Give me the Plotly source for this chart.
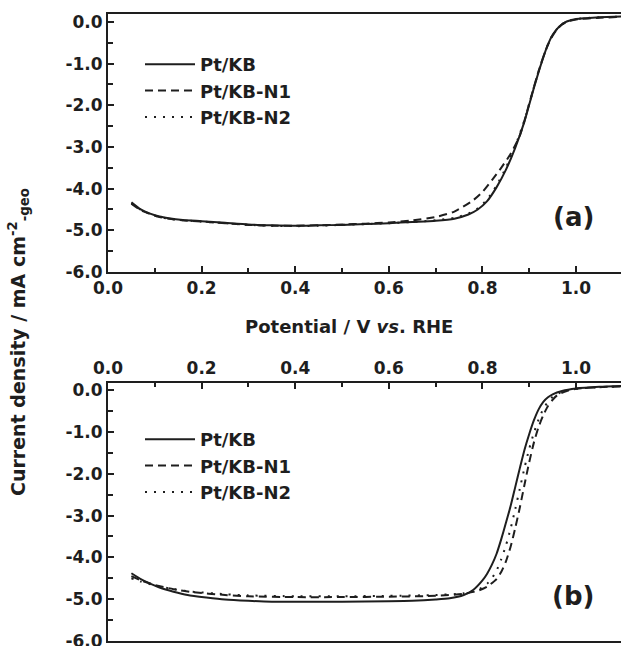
import plotly.graph_objects as go

# ---------------- data ----------------
names = ["Pt/KB", "Pt/KB-N1", "Pt/KB-N2"]

# panel (a)
a_kb_x = [0.05, 0.07, 0.09, 0.11, 0.13, 0.16, 0.20, 0.25, 0.30, 0.35, 0.40, 0.45, 0.50, 0.55, 0.60,
          0.65, 0.70, 0.74, 0.77, 0.79, 0.81, 0.83, 0.85, 0.87, 0.89, 0.90, 0.91, 0.92, 0.93, 0.94,
          0.95, 0.96, 0.97, 0.98, 1.00, 1.02, 1.05, 1.10]
a_kb_y = [-4.33, -4.50, -4.60, -4.67, -4.71, -4.75, -4.78, -4.82, -4.86, -4.88, -4.89, -4.88, -4.87, -4.85, -4.83,
          -4.80, -4.77, -4.72, -4.62, -4.50, -4.30, -3.97, -3.55, -3.02, -2.38, -1.98, -1.58, -1.20, -0.85, -0.54,
          -0.31, -0.16, -0.06, 0.01, 0.07, 0.09, 0.11, 0.13]

a_n1_x = [0.05, 0.07, 0.09, 0.11, 0.13, 0.16, 0.20, 0.25, 0.30, 0.35, 0.40, 0.45, 0.50, 0.55, 0.60,
          0.65, 0.70, 0.74, 0.78, 0.80, 0.82, 0.84, 0.86, 0.88, 0.89, 0.90, 0.91, 0.92, 0.93, 0.94,
          0.95, 0.96, 0.97, 0.98, 1.00, 1.05, 1.10]
a_n1_y = [-4.36, -4.52, -4.61, -4.68, -4.72, -4.76, -4.79, -4.83, -4.87, -4.89, -4.89, -4.88, -4.86, -4.84, -4.81,
          -4.76, -4.68, -4.55, -4.28, -4.08, -3.80, -3.50, -3.17, -2.72, -2.36, -1.96, -1.56, -1.18, -0.84, -0.55,
          -0.33, -0.17, -0.06, 0.00, 0.06, 0.10, 0.12]

a_n2_x = [0.05, 0.07, 0.09, 0.11, 0.13, 0.16, 0.20, 0.25, 0.30, 0.35, 0.40, 0.45, 0.50, 0.55, 0.60,
          0.65, 0.70, 0.74, 0.77, 0.79, 0.81, 0.83, 0.85, 0.87, 0.89, 0.90, 0.91, 0.92, 0.93, 0.94,
          0.95, 0.96, 0.97, 0.98, 1.00, 1.02, 1.05, 1.10]
a_n2_y = [-4.35, -4.51, -4.61, -4.68, -4.72, -4.76, -4.79, -4.83, -4.87, -4.89, -4.90, -4.89, -4.87, -4.85, -4.83,
          -4.80, -4.76, -4.70, -4.60, -4.47, -4.26, -3.93, -3.50, -2.98, -2.35, -1.96, -1.56, -1.19, -0.84, -0.54,
          -0.31, -0.16, -0.06, 0.01, 0.07, 0.09, 0.11, 0.13]

# panel (b)
b_kb_x = [0.05, 0.07, 0.09, 0.11, 0.14, 0.17, 0.21, 0.25, 0.30, 0.35, 0.40, 0.50, 0.60, 0.65, 0.70,
          0.73, 0.76, 0.78, 0.80, 0.81, 0.82, 0.83, 0.84, 0.85, 0.86, 0.87, 0.88, 0.89, 0.90, 0.91,
          0.92, 0.93, 0.94, 0.95, 0.97, 1.00, 1.05, 1.10]
b_kb_y = [-4.38, -4.52, -4.63, -4.72, -4.82, -4.90, -4.96, -5.01, -5.04, -5.06, -5.06, -5.06, -5.05, -5.04, -5.01,
          -4.98, -4.90, -4.78, -4.55, -4.39, -4.18, -3.92, -3.57, -3.18, -2.78, -2.32, -1.86, -1.42, -1.05, -0.72,
          -0.46, -0.28, -0.17, -0.10, -0.02, 0.04, 0.08, 0.10]

b_n1_x = [0.05, 0.07, 0.10, 0.14, 0.18, 0.25, 0.30, 0.40, 0.50, 0.60, 0.70, 0.76, 0.79, 0.81, 0.83,
          0.84, 0.85, 0.86, 0.87, 0.88, 0.89, 0.90, 0.91, 0.92, 0.93, 0.94, 0.95, 0.96, 0.98, 1.00,
          1.05, 1.10]
b_n1_y = [-4.45, -4.55, -4.66, -4.76, -4.83, -4.90, -4.93, -4.95, -4.95, -4.94, -4.92, -4.87, -4.80, -4.70, -4.52,
          -4.35, -4.10, -3.75, -3.30, -2.80, -2.25, -1.72, -1.25, -0.88, -0.60, -0.38, -0.23, -0.12, -0.02, 0.03,
          0.07, 0.09]

b_n2_x = [0.05, 0.07, 0.10, 0.14, 0.18, 0.25, 0.30, 0.40, 0.50, 0.60, 0.70, 0.76, 0.79, 0.81, 0.82,
          0.83, 0.84, 0.85, 0.86, 0.87, 0.88, 0.89, 0.90, 0.91, 0.92, 0.93, 0.94, 0.95, 0.97, 1.00,
          1.05, 1.10]
b_n2_y = [-4.50, -4.58, -4.67, -4.76, -4.82, -4.88, -4.91, -4.93, -4.93, -4.92, -4.90, -4.86, -4.78, -4.63, -4.50,
          -4.32, -4.05, -3.72, -3.32, -2.85, -2.35, -1.85, -1.40, -1.02, -0.70, -0.45, -0.28, -0.16, -0.04, 0.03,
          0.07, 0.09]

x_tick_vals = [0.0, 0.2, 0.4, 0.6, 0.8, 1.0]
x_tick_text = ["0.0", "0.2", "0.4", "0.6", "0.8", "1.0"]
y_tick_vals = [0.0, -1.0, -2.0, -3.0, -4.0, -5.0, -6.0]
y_tick_text = ["0.0", "-1.0", "-2.0", "-3.0", "-4.0", "-5.0", "-6.0"]

x_title = "Potential / V <i>vs</i>. RHE"
y_title = "Current density / mA cm<sup>-2</sup><sub>-geo</sub>"
panel_labels = ["(a)", "(b)"]

# ---------------- styling ----------------
W, H = 621, 646
INK = "#1e1e1e"
FONT = "DejaVu Sans"
dashes = ["solid", "8px,5px", "2px,7px"]

ml, mr, mt, mb = 108, 0, 14, 5
plot_w = W - ml - mr
plot_h = H - mt - mb


def px(xp):
    return (xp - ml) / plot_w


def py(yp):
    return (H - mb - yp) / plot_h


fig = go.Figure()

panel_a = [(a_kb_x, a_kb_y), (a_n1_x, a_n1_y), (a_n2_x, a_n2_y)]
panel_b = [(b_kb_x, b_kb_y), (b_n1_x, b_n1_y), (b_n2_x, b_n2_y)]

for i, (xs, ys) in enumerate(panel_a):
    fig.add_trace(go.Scatter(x=xs, y=ys, mode="lines", name=names[i],
                             line=dict(color=INK, width=2, dash=dashes[i], shape="spline", smoothing=0.6),
                             xaxis="x", yaxis="y", legend="legend"))
for i, (xs, ys) in enumerate(panel_b):
    fig.add_trace(go.Scatter(x=xs, y=ys, mode="lines", name=names[i],
                             line=dict(color=INK, width=2, dash=dashes[i], shape="spline", smoothing=0.6),
                             xaxis="x2", yaxis="y2", legend="legend2"))

tickfont = dict(family=FONT, size=17, color=INK, weight="bold")

top_lo = py(272)
bot_hi = py(383)

xcommon = dict(range=[0, 1.096], tickvals=x_tick_vals, ticktext=x_tick_text, ticks="inside",
               ticklen=6, tickwidth=2, tickcolor=INK, showline=True, linewidth=2, linecolor=INK,
               mirror=True, showgrid=False, zeroline=False, tickfont=tickfont, ticklabeloverflow="allow",
               minor=dict(dtick=0.1, tick0=0, ticks="inside", ticklen=4, tickwidth=2, tickcolor=INK))
ycommon = dict(tickvals=y_tick_vals, ticktext=y_tick_text, ticks="inside",
               ticklen=6, tickwidth=2, tickcolor=INK, showline=True, linewidth=2, linecolor=INK,
               mirror=False, showgrid=False, zeroline=False, tickfont=tickfont, ticklabeloverflow="allow",
               minor=dict(dtick=0.5, tick0=0, ticks="inside", ticklen=5, tickwidth=2, tickcolor=INK))

legfont = dict(family=FONT, size=18, color=INK, weight="bold")

fig.update_layout(
    width=W, height=H,
    margin=dict(l=ml, r=mr, t=mt, b=mb, autoexpand=False),
    paper_bgcolor="white", plot_bgcolor="white",
    xaxis=dict(**xcommon, side="bottom", anchor="y", domain=[0, 1]),
    yaxis=dict(**ycommon, range=[-6, 0.19], anchor="x", domain=[top_lo, 1]),
    xaxis2=dict(**xcommon, side="top", anchor="y2", domain=[0, 1]),
    yaxis2=dict(**ycommon, range=[-6, 0.17], anchor="x2", domain=[0, bot_hi]),
    legend=dict(x=px(140), y=py(46), xanchor="left", yanchor="top", bgcolor="rgba(0,0,0,0)",
                font=legfont, itemwidth=50, tracegroupgap=0),
    legend2=dict(x=px(140), y=py(421), xanchor="left", yanchor="top", bgcolor="rgba(0,0,0,0)",
                 font=legfont, itemwidth=50, tracegroupgap=0),
    showlegend=True,
)

annotations = [
    dict(text=x_title, xref="paper", yref="paper", x=px(349), y=py(326),
         xanchor="center", yanchor="middle", showarrow=False,
         font=dict(family=FONT, size=18, color=INK, weight="bold")),
    dict(text=y_title, xref="paper", yref="paper", x=px(18), y=py(342),
         xanchor="center", yanchor="middle", showarrow=False, textangle=-90,
         font=dict(family=FONT, size=19, color=INK, weight="bold")),
    dict(text=panel_labels[0], xref="paper", yref="paper", x=px(573), y=py(217),
         xanchor="center", yanchor="middle", showarrow=False,
         font=dict(family=FONT, size=26, color=INK, weight="bold")),
    dict(text=panel_labels[1], xref="paper", yref="paper", x=px(573), y=py(596),
         xanchor="center", yanchor="middle", showarrow=False,
         font=dict(family=FONT, size=26, color=INK, weight="bold")),
]
fig.update_layout(annotations=annotations)

fig.write_html("out.html")
